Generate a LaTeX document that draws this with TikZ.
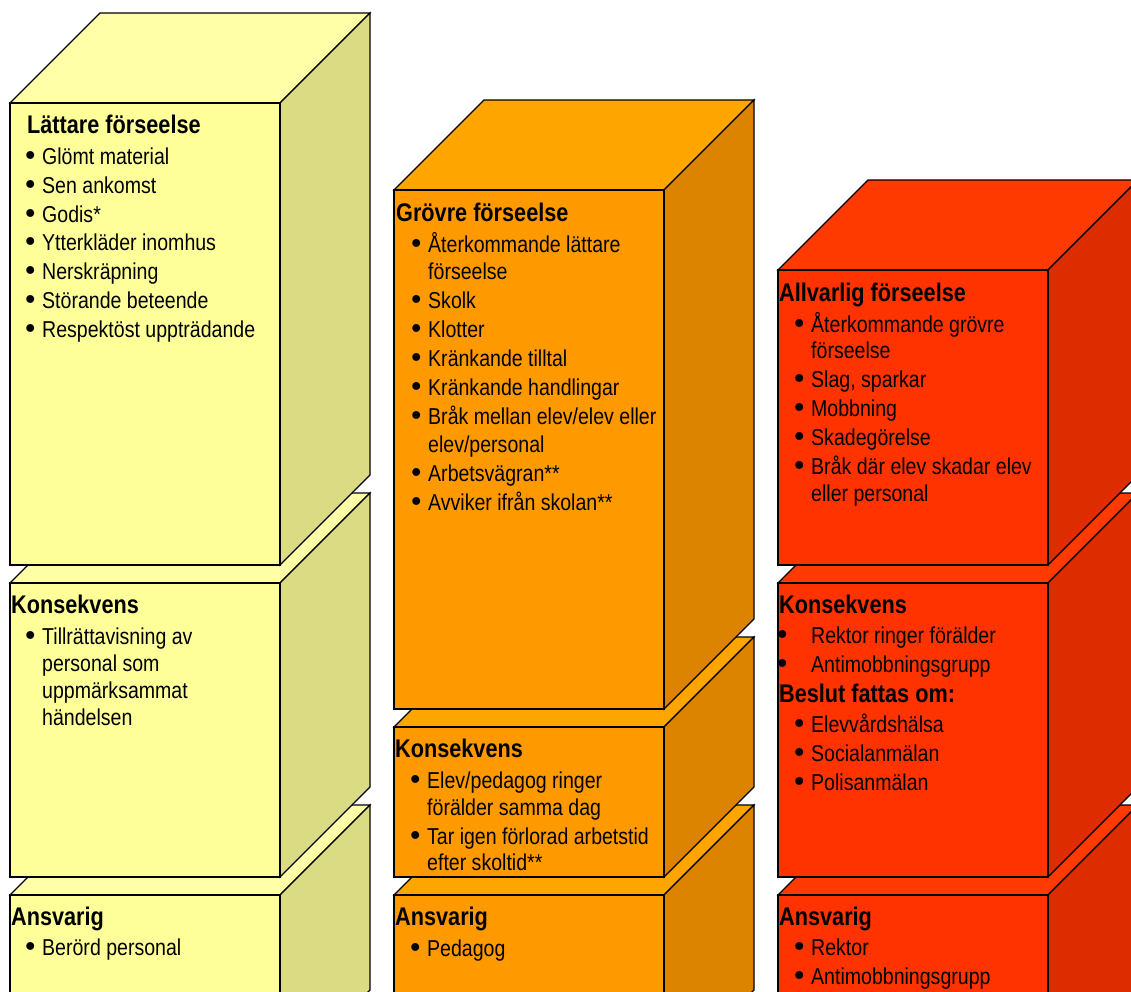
\documentclass[tikz,border=0pt]{standalone}
\usepackage{fontspec}
\setmainfont[FakeStretch=0.85]{Liberation Sans}
\newfontfamily\punktfont{DejaVu Sans}
\usetikzlibrary{calc}

\definecolor{gulfram}{HTML}{FFFF99}
\definecolor{gultopp}{HTML}{FFFFA8}
\definecolor{gulsida}{HTML}{DBDB84}
\definecolor{orfram}{HTML}{FF9900}
\definecolor{ortopp}{HTML}{FFA500}
\definecolor{orsida}{HTML}{DC8400}
\definecolor{rodfram}{HTML}{FF3300}
\definecolor{rodtopp}{HTML}{FF3A00}
\definecolor{rodsida}{HTML}{DC2C00}

\tikzset{
    kloss/.style={draw=black, line width=1.2bp, line join=miter},
    rubrik/.style={anchor=base west, inner sep=0pt, font=\fontsize{25.5bp}{30bp}\selectfont\bfseries},
    rad/.style={anchor=base west, inner sep=0pt, font=\fontsize{23bp}{28bp}\selectfont}
}
\newcommand{\prick}{\raisebox{-1.8bp}{\punktfont\fontsize{27bp}{27bp}\selectfont •}}
\newcommand{\punkt}{\llap{\prick\hskip 3.8bp}}
\newcommand{\langpunkt}{\llap{\prick\hskip 21bp}}

\begin{document}
\begin{tikzpicture}[x=1bp, y=-1bp]
    \useasboundingbox (0,0) rectangle (1131,992);
    \clip (0,0) rectangle (1131,992);

    % klossar, nedifraan och upp i varje pelare
    \foreach \x/\ya/\yb/\fram/\sida/\topp in {
        10/895/1080/gulfram/gulsida/gultopp, 10/583/877/gulfram/gulsida/gultopp, 10/103/565/gulfram/gulsida/gultopp,
        394/895/1080/orfram/orsida/ortopp, 394/727/877/orfram/orsida/ortopp, 394/190/709/orfram/orsida/ortopp,
        778/895/1080/rodfram/rodsida/rodtopp, 778/583/877/rodfram/rodsida/rodtopp, 778/270/565/rodfram/rodsida/rodtopp}
    {
        \filldraw [kloss, fill=\topp] (\x,\ya) -- ++(90,-90) -- ++(270,0) -- ++(-90,90) -- cycle;
        \filldraw [kloss, fill=\sida] (\x+270,\ya) -- ++(90,-90) -- ++(0,\yb-\ya) -- (\x+270,\yb) -- cycle;
        \filldraw [kloss, fill=\fram] (\x,\ya) rectangle (\x+270,\yb);
    }

    % lattare forseelse
    \node [rubrik] (rubA1) at (27,133) {Lättare förseelse};
    \foreach \y/\t [count=\i] in {164/Glömt material, 193/Sen ankomst, 222/Godis*, 250/Ytterkläder inomhus,
        279/Nerskräpning, 308/Störande beteende, 337/Respektöst uppträdande}
        \node [rad] (radA1-\i) at (42,\y) {\punkt\t};
    \node [rubrik] (rubA2) at (11,613) {Konsekvens};
    \foreach \y/\t [count=\i] in {644/\punkt Tillrättavisning av, 671/personal som, 698/uppmärksammat, 725/händelsen}
        \node [rad] (radA2-\i) at (42,\y) {\t};
    \node [rubrik] (rubA3) at (11,925) {Ansvarig};
    \node [rad] (radA3-1) at (42,955) {\punkt Berörd personal};

    % grovre forseelse
    \node [rubrik] (rubB1) at (396,221) {Grövre förseelse};
    \foreach \y/\t [count=\i] in {252/\punkt Återkommande lättare, 279/förseelse, 308/\punkt Skolk, 337/\punkt Klotter,
        366/\punkt Kränkande tilltal, 395/\punkt Kränkande handlingar, 424/{\punkt Bråk mellan elev/elev eller},
        452/{elev/personal}, 481/\punkt Arbetsvägran**, 510/\punkt Avviker ifrån skolan**}
        \node [rad] (radB1-\i) at (428,\y) {\t};
    \node [rubrik] (rubB2) at (395,757) {Konsekvens};
    \foreach \y/\t [count=\i] in {788/{\punkt Elev/pedagog ringer}, 815/förälder samma dag,
        844/\punkt Tar igen förlorad arbetstid, 870/efter skoltid**}
        \node [rad] (radB2-\i) at (427,\y) {\t};
    \node [rubrik] (rubB3) at (395,925) {Ansvarig};
    \node [rad] (radB3-1) at (427,956) {\punkt Pedagog};

    % allvarlig forseelse
    \node [rubrik] (rubC1) at (779,301) {Allvarlig förseelse};
    \foreach \y/\t [count=\i] in {332/\punkt Återkommande grövre, 358/förseelse, 387/{\punkt Slag, sparkar},
        416/\punkt Mobbning, 445/\punkt Skadegörelse, 474/\punkt Bråk där elev skadar elev, 501/eller personal}
        \node [rad] (radC1-\i) at (811,\y) {\t};
    \node [rubrik] (rubC2) at (779,613) {Konsekvens};
    \node [rad] (radC2-1) at (811,643) {\langpunkt Rektor ringer förälder};
    \node [rad] (radC2-2) at (811,672) {\langpunkt Antimobbningsgrupp};
    \node [rubrik] (rubC2b) at (779,702) {Beslut fattas om:};
    \foreach \y/\t [count=\i] in {732/Elevvårdshälsa, 761/Socialanmälan, 790/Polisanmälan}
        \node [rad] (radC2b-\i) at (811,\y) {\punkt\t};
    \node [rubrik] (rubC3) at (779,925) {Ansvarig};
    \node [rad] (radC3-1) at (811,955) {\punkt Rektor};
    \node [rad] (radC3-2) at (811,984) {\punkt Antimobbningsgrupp};
\end{tikzpicture}
\end{document}
